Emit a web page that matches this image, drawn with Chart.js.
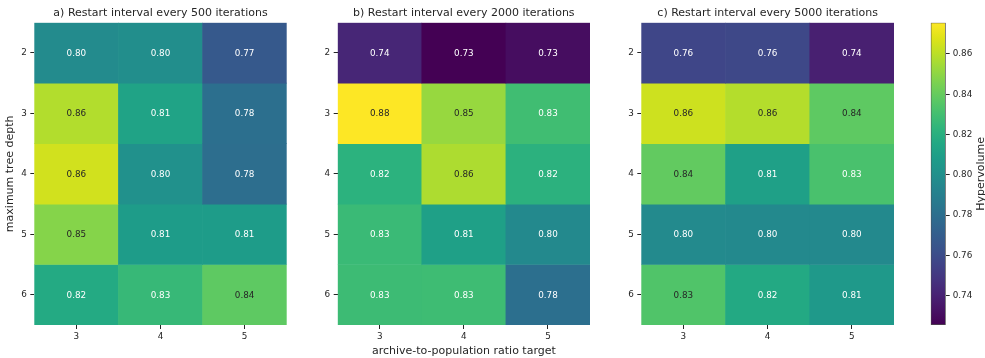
<!DOCTYPE html>
<html>
<head>
<meta charset="utf-8">
<script src="https://cdn.jsdelivr.net/npm/chart.js@4.4.1/dist/chart.umd.min.js"></script>
<style>
  html, body { margin: 0; padding: 0; background: #ffffff; }
  #wrap { position: relative; width: 985px; height: 358px; overflow: hidden; }
  .panel { position: absolute; top: 0; }
</style>
</head>
<body>
<div id="wrap">
  <canvas class="panel" id="hmA" width="300" height="358" style="left:0px"></canvas>
  <canvas class="panel" id="hmB" width="300" height="358" style="left:300px"></canvas>
  <canvas class="panel" id="hmC" width="300" height="358" style="left:600px"></canvas>
  <canvas class="panel" id="cbar" width="85" height="358" style="left:900px"></canvas>
</div>
<script>
// archive-to-population ratio targets (columns) and maximum tree depths (rows)
const ratioTargets = ['3', '4', '5'];
const treeDepths = [2, 3, 4, 5, 6];

// mean hypervolume, one row per tree depth, one column per ratio target
const hvRestart500 = [
  [0.797, 0.799, 0.7675],
  [0.858, 0.8125, 0.7805],
  [0.865, 0.8005, 0.7795],
  [0.848, 0.808, 0.808],
  [0.8165, 0.826, 0.838]
];
const hvRestart2000 = [
  [0.742, 0.7255, 0.731],
  [0.8755, 0.852, 0.829],
  [0.8215, 0.857, 0.821],
  [0.827, 0.8103, 0.796],
  [0.828, 0.8285, 0.7805]
];
const hvRestart5000 = [
  [0.757, 0.758, 0.739],
  [0.864, 0.8585, 0.838],
  [0.839, 0.8103, 0.832],
  [0.7965, 0.796, 0.796],
  [0.834, 0.8163, 0.806]
];

const panelTitles = [
  'a) Restart interval every 500 iterations',
  'b) Restart interval every 2000 iterations',
  'c) Restart interval every 5000 iterations'
];
const colorbarTicks = [0.74, 0.76, 0.78, 0.80, 0.82, 0.84, 0.86];

// shared colour range over all three grids
const allValues = [].concat(...hvRestart500, ...hvRestart2000, ...hvRestart5000);
const vMin = Math.min(...allValues);
const vMax = Math.max(...allValues);

// viridis colormap anchors, evenly spaced from 0 to 1
const VIRIDIS = [
  [68, 1, 84], [71, 18, 101], [72, 35, 116], [69, 52, 127], [64, 67, 135],
  [58, 82, 139], [52, 94, 141], [46, 107, 142], [41, 120, 142], [37, 132, 142],
  [33, 145, 140], [30, 156, 137], [34, 168, 132], [47, 180, 124], [68, 191, 112],
  [94, 201, 98], [122, 209, 81], [155, 217, 60], [189, 223, 38], [223, 227, 24],
  [253, 231, 37]
];

function viridisRGB(t) {
  t = Math.max(0, Math.min(1, t));
  const pos = t * (VIRIDIS.length - 1);
  const i = Math.min(Math.floor(pos), VIRIDIS.length - 2);
  const f = pos - i;
  const a = VIRIDIS[i], b = VIRIDIS[i + 1];
  return [0, 1, 2].map(k => Math.round(a[k] + (b[k] - a[k]) * f));
}
function valueRGB(v) { return viridisRGB((v - vMin) / (vMax - vMin)); }
function rgbStr(c) { return 'rgb(' + c[0] + ',' + c[1] + ',' + c[2] + ')'; }

// relative luminance decides between dark and white annotation text
function luminance(c) {
  const lin = c.map(x => {
    x /= 255;
    return x <= 0.03928 ? x / 12.92 : Math.pow((x + 0.055) / 1.055, 2.4);
  });
  return 0.2126 * lin[0] + 0.7152 * lin[1] + 0.0722 * lin[2];
}

const TEXT = '#262626';
const FONT = 'DejaVu Sans';

const cellLabels = {
  id: 'cellLabels',
  afterDatasetsDraw(chart) {
    const ctx = chart.ctx;
    ctx.save();
    ctx.font = '8.8px "' + FONT + '"';
    ctx.textAlign = 'center';
    ctx.textBaseline = 'middle';
    chart.data.datasets.forEach((ds, i) => {
      const meta = chart.getDatasetMeta(i);
      meta.data.forEach((bar, j) => {
        const p = bar.getProps(['x', 'y', 'base'], true);
        const v = ds.values[j];
        ctx.fillStyle = luminance(valueRGB(v)) > 0.408 ? TEXT : '#ffffff';
        ctx.fillText(v.toFixed(2), p.x, (p.y + p.base) / 2 + 0.5);
      });
    });
    ctx.restore();
  }
};

// left edge widths of each grid's y axis, and right padding
const axisWidths = [34.3, 37.7, 41.3];
const rightPads = [13.3, 10, 6];

function makeHeatmap(canvasId, grid, idx) {
  const datasets = treeDepths.map((depth, r) => ({
    label: 'depth ' + depth,
    values: grid[r],
    data: grid[r].map(() => [depth - 0.5, depth + 0.5]),
    backgroundColor: grid[r].map(v => rgbStr(valueRGB(v))),
    borderWidth: 0,
    barPercentage: 1,
    categoryPercentage: 1,
    grouped: false
  }));
  const showXTitle = idx === 1;
  return new Chart(document.getElementById(canvasId), {
    type: 'bar',
    data: { labels: ratioTargets, datasets },
    plugins: [cellLabels],
    options: {
      responsive: false,
      animation: false,
      devicePixelRatio: 1,
      layout: { padding: { left: 0, right: rightPads[idx], top: 0, bottom: 0 } },
      plugins: {
        legend: { display: false },
        tooltip: { enabled: false },
        title: {
          display: true,
          fullSize: false,
          text: panelTitles[idx],
          color: TEXT,
          font: { family: FONT, size: 11, weight: 'normal' },
          padding: { top: 6.5, bottom: 3 }
        }
      },
      scales: {
        x: {
          type: 'category',
          offset: true,
          border: { display: false },
          grid: { display: true, offset: false, drawOnChartArea: false, drawTicks: true, tickLength: 4, color: TEXT },
          ticks: { color: TEXT, font: { family: FONT, size: 8.8 }, padding: 2, maxRotation: 0 },
          title: {
            display: showXTitle,
            text: 'archive-to-population ratio target',
            color: TEXT,
            font: { family: FONT, size: 11 },
            padding: { top: 2.5, bottom: 0 }
          },
          afterFit(scale) { scale.height = 33; }
        },
        y: {
          type: 'linear',
          reverse: true,
          min: treeDepths[0] - 0.5,
          max: treeDepths[treeDepths.length - 1] + 0.5,
          border: { display: false },
          grid: { display: true, drawOnChartArea: false, drawTicks: true, tickLength: 4, color: TEXT },
          ticks: { color: TEXT, font: { family: FONT, size: 8.8 }, padding: 3.5 },
          afterBuildTicks(scale) { scale.ticks = treeDepths.map(v => ({ value: v })); },
          title: {
            display: idx === 0,
            text: 'maximum tree depth',
            color: TEXT,
            font: { family: FONT, size: 11 },
            padding: { top: 3.4, bottom: 0 }
          },
          afterFit(scale) { scale.width = axisWidths[idx]; }
        }
      }
    }
  });
}

makeHeatmap('hmA', hvRestart500, 0);
makeHeatmap('hmB', hvRestart2000, 1);
makeHeatmap('hmC', hvRestart5000, 2);

// colorbar title, reading bottom to top
const colorbarLabel = {
  id: 'colorbarLabel',
  afterDraw(chart) {
    const ctx = chart.ctx;
    const area = chart.chartArea;
    ctx.save();
    ctx.translate(81.5, (area.top + area.bottom) / 2);
    ctx.rotate(-Math.PI / 2);
    ctx.font = '11px "' + FONT + '"';
    ctx.fillStyle = TEXT;
    ctx.textAlign = 'center';
    ctx.textBaseline = 'middle';
    ctx.fillText('Hypervolume', 0, 0);
    ctx.restore();
  }
};

new Chart(document.getElementById('cbar'), {
  type: 'bar',
  data: {
    labels: [''],
    datasets: [{
      data: [[vMin, vMax]],
      backgroundColor(context) {
        const area = context.chart.chartArea;
        if (!area) return 'rgb(33,145,140)';
        const g = context.chart.ctx.createLinearGradient(0, area.bottom, 0, area.top);
        VIRIDIS.forEach((c, i) => g.addColorStop(i / (VIRIDIS.length - 1), rgbStr(c)));
        return g;
      },
      borderColor: '#4d4d4d',
      borderWidth: 1,
      borderSkipped: false,
      barPercentage: 1,
      categoryPercentage: 1
    }]
  },
  plugins: [colorbarLabel],
  options: {
    responsive: false,
    animation: false,
    devicePixelRatio: 1,
    layout: { padding: { left: 30.7, right: 0, top: 22.7, bottom: 33 } },
    plugins: { legend: { display: false }, tooltip: { enabled: false } },
    scales: {
      x: { display: false },
      y: {
        position: 'right',
        min: vMin,
        max: vMax,
        border: { display: false },
        grid: { display: true, drawOnChartArea: false, drawTicks: true, tickLength: 4, color: TEXT },
        ticks: {
          color: TEXT,
          font: { family: FONT, size: 8.8 },
          padding: 3,
          callback: v => v.toFixed(2)
        },
        afterBuildTicks(scale) { scale.ticks = colorbarTicks.map(v => ({ value: v })); },
        afterFit(scale) { scale.width = 85 - 45.7; }
      }
    }
  }
});
</script>
</body>
</html>
